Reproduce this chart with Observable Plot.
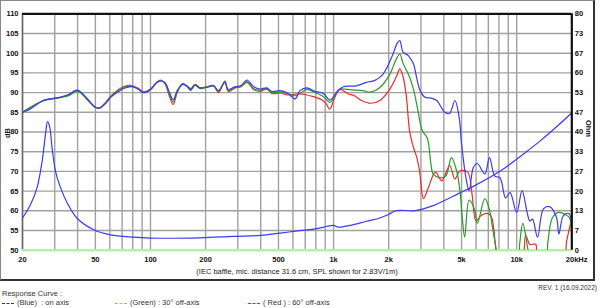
<!DOCTYPE html>
<html><head><meta charset="utf-8">
<script src="https://cdn.jsdelivr.net/npm/d3@7"></script>
<script src="https://cdn.jsdelivr.net/npm/@observablehq/plot@0.6"></script>
<style>
html,body{margin:0;padding:0;background:#fff;}
body{width:600px;height:308px;position:relative;overflow:hidden;font-family:"Liberation Sans",Arial,sans-serif;}
#frame{position:absolute;left:0;top:0;width:592px;height:278px;border-left:1px solid #888;border-top:1px solid #888;border-right:2px solid #333;border-bottom:2px solid #333;}
#chart{position:absolute;left:0;top:0;}
#caption{position:absolute;left:0;top:266px;width:592px;text-align:center;font-size:7.5px;color:#222;line-height:9px;}
#rev{position:absolute;right:3px;top:284px;font-size:6.5px;color:#333;line-height:8px;}
#resp{position:absolute;left:2px;top:289px;font-size:7.5px;color:#333;line-height:9px;}
.leg{position:absolute;top:298px;font-size:7.5px;color:#333;line-height:9px;white-space:pre;}
.dash{display:inline-block;width:12px;height:0;border-top:1px dashed;vertical-align:middle;margin-right:3px;}
</style></head>
<body>
<div id="frame"><div id="chart"></div>
<div id="caption">(IEC baffle, mic. distance 31.6 cm, SPL shown for 2.83V/1m)</div></div>
<div id="rev">REV. 1 (16.09.2022)</div>
<div id="resp">Response Curve :</div>
<div class="leg" style="left:2px"><span class="dash" style="border-color:#2a2a9a"></span>(Blue)  : on axis</div>
<div class="leg" style="left:115px"><span class="dash" style="border-color:#99cc33"></span>(Green) : 30° off-axis</div>
<div class="leg" style="left:248px"><span class="dash" style="border-color:#ee2222"></span>( Red ) : 60° off-axis</div>
<script>
// ---- Data ----
const blueFreq = [20,22,26,32,36,39,41,45,50,53,57,61,67,72,79,85,92,100,108,113,120,127,133,140,150,160,166,175,187,203,221,235,255,266,290,312,336,366,396,431,460,511,560,617,655,715,792,878,955,1040,1130,1330,1510,1680,1850,1960,2100,2230,2300,2400,2560,2730,2850,2970,3160,3400,3660,4050,4300,4600,4850,5000,5300,5500,5800,6100,6700,7100,7600,8100,8700,9200,10000,10700,11400,11800,12200,13000,14000,15200,16500,17000,18000,19300,20000];
const blueSpl = [85.0,85.8,88.0,88.8,89.6,90.6,90.4,88.5,86.3,86.1,87.3,88.9,90.3,91.1,91.5,91.0,90.0,90.8,92.5,93.0,92.6,90.0,88.2,90.5,92.1,91.5,90.8,91.9,91.2,91.3,91.8,90.5,92.6,90.8,91.5,91.8,93.2,91.5,90.9,91.2,90.3,90.5,89.9,88.4,90.5,91.2,90.3,89.8,88.1,90.1,91.5,91.7,92.6,93.1,94.5,96.4,99.5,102.6,103.2,100.2,99.4,97.3,93.5,90.5,88.8,88.6,88.0,85.0,84.7,88.0,83.7,77.0,68.0,65.1,71.0,72.0,69.3,73.5,68.8,68.4,63.3,64.6,59.6,65.1,59.6,57.4,57.9,53.3,60.5,61.0,58.3,54.1,58.8,59.3,55.9];

const greenFreq = [20,26,32,36,39,41,45,50,53,57,61,67,72,79,85,92,100,108,113,120,127,133,140,150,160,166,175,187,203,221,235,255,266,290,312,336,366,396,431,460,511,560,617,655,715,792,878,955,1040,1080,1250,1450,1580,1790,2030,2200,2300,2400,2560,2730,2890,3040,3250,3400,3500,3800,4100,4400,4700,4900,5050,5200,5500,5900,6100,6700,7100,7400,7700,8000,10000,10400,10800,11500,12000,14300,14800,15700,17000,18500,19400,20000];
const greenSpl = [85.0,87.9,88.7,89.3,90.2,90.1,88.3,86.2,86.1,87.4,89.0,90.6,91.4,91.6,91.0,90.0,90.8,92.5,93.0,92.4,89.5,87.6,90.3,92.2,91.3,90.5,91.9,91.0,91.4,91.6,90.3,92.8,90.5,91.3,91.6,92.8,91.0,90.6,91.0,90.0,90.2,89.7,89.2,89.8,90.8,90.0,89.0,87.5,90.0,90.9,90.7,90.5,90.1,91.3,94.7,98.5,99.8,97.3,94.7,90.9,85.4,80.5,78.4,72.0,69.3,68.4,68.8,73.5,70.1,65.1,58.0,53.3,62.7,60.2,56.8,63.1,60.3,55.4,50.7,46,46,52,56.8,50.4,46,46,52,58.3,59.6,59.0,58.3,50];

const redFreq = [20,26,32,36,39,41,45,50,53,57,61,67,72,79,85,92,100,108,113,120,127,133,140,150,160,166,175,187,203,221,235,255,266,290,312,336,366,396,431,460,511,560,617,655,715,745,843,900,955,1000,1080,1200,1300,1420,1600,1790,2030,2200,2300,2400,2500,2600,2730,2850,2950,3100,3300,3600,3900,4300,4600,4900,5400,5700,6000,6400,7000,7300,7700,7900,10500,11200,11800,12700,13100,18000,18700,20000];
const redSpl = [85.0,88.0,88.8,89.5,90.5,90.3,88.4,86.3,86.2,87.6,89.2,90.8,91.6,91.8,91.2,90.2,90.9,92.6,93.2,92.2,89.0,87.0,90.0,92.3,91.5,91.0,92.1,91.2,91.5,91.8,90.0,92.9,90.3,91.2,91.5,92.6,90.8,90.3,90.9,89.8,89.9,89.4,89.6,89.7,89.4,89.2,88.4,87.5,85.8,88.0,90.8,89.7,89.2,88.0,87.3,88.0,90.9,94.0,96.0,93.9,88.8,80.3,76.1,73.5,70.0,63.1,66.0,69.8,67.6,71.5,68.1,70.1,69.8,64.3,57.4,58.8,59.3,58.3,50,46,46,53.8,51.5,51.5,46,46,52,58];

const impFreq = [20,22.1,24,25.6,26.7,27.4,28.2,29,30.3,32.3,35.1,39.6,49,60.4,80.7,100,187,284,399,511,655,810,921,1000,1060,1230,1510,1790,1980,2200,2800,3500,4900,5800,8100,10800,13400,17100,20000];
const impOhm = [10.9,15.4,21.1,30.1,39.2,43.5,41.5,34.7,26.7,21.1,16.0,10.9,6.9,5.2,4.4,4.1,4.2,4.7,5.0,5.8,6.6,7.3,8.1,8.4,7.8,8.4,9.8,10.9,12.0,13.4,13.4,15.1,19.4,21.6,26.7,32.4,36.9,42.6,46.5];

const dbTicks = [50,55,60,65,70,75,80,85,90,95,100,105,110];
const ohmLabels = ["0","7","13","20","27","33","40","47","53","60","67","73","80"];
const gridFreqs = [20,30,40,50,60,70,80,90,100,200,300,400,500,600,700,800,900,1000,2000,3000,4000,5000,6000,7000,8000,9000,10000,20000];
const xTicks = [20,50,100,200,500,1000,2000,5000,10000];
const xLabels = ["20","50","100","200","500","1k","2k","5k","10k"];
const lastLabel = "20kHz";

// ---- Tables ----
const toRows = (f, v) => f.map((x, i) => ({f: x, v: v[i]}));
const blue = toRows(blueFreq, blueSpl);
const green = toRows(greenFreq, greenSpl);
const red = toRows(redFreq, redSpl);
const imp = toRows(impFreq, impOhm).map(d => ({f: d.f, v: 50 + d.v * 60 / 80}));

const chart = Plot.plot({
  width: 592, height: 262,
  marginLeft: 21, marginTop: 12.3, marginRight: 21.7, marginBottom: 13.3,
  x: {type: "log", domain: [20, 20000], axis: null},
  y: {domain: [50, 110], axis: null},
  style: {fontFamily: "Liberation Sans, Arial, sans-serif", fontSize: "7.5px", fontWeight: "bold", color: "#111", background: "white", overflow: "visible"},
  marks: [
    Plot.ruleX(gridFreqs, {stroke: "#a0a0a0", strokeWidth: 1.4}),
    Plot.ruleY(dbTicks, {stroke: "#a0a0a0", strokeWidth: 1.4}),
    Plot.ruleX([20], {stroke: "#666", strokeWidth: 1.5}),
    Plot.ruleY([50], {stroke: "#b6f0a6", strokeWidth: 2.5}),
    Plot.line(imp, {x: "f", y: "v", stroke: "#3b3bf0", strokeWidth: 1.2, curve: "catmull-rom", clip: true}),
    Plot.line(red, {x: "f", y: "v", stroke: "#ee2a2a", strokeWidth: 1.2, curve: "catmull-rom", clip: true}),
    Plot.line(green, {x: "f", y: "v", stroke: "#2a9a2a", strokeWidth: 1.2, curve: "catmull-rom", clip: true}),
    Plot.line(blue, {x: "f", y: "v", stroke: "#3b3bf0", strokeWidth: 1.2, curve: "catmull-rom", clip: true}),
    Plot.ruleY([110], {stroke: "#111", strokeWidth: 2.2}),
    Plot.ruleX([20000], {stroke: "#111", strokeWidth: 2.2}),
    Plot.axisY({ticks: dbTicks, anchor: "left", tickSize: 0, tickPadding: 4, label: null, tickFormat: d => String(d)}),
    Plot.axisY({ticks: dbTicks, anchor: "right", tickSize: 0, tickPadding: 3, label: null, tickFormat: (d) => ohmLabels[dbTicks.indexOf(d)]}),
    Plot.text(xTicks, {x: d => d, y: 50, text: (d, i) => xLabels[i], lineAnchor: "top", dy: 6}),
    Plot.text([lastLabel], {x: 20000, y: 50, text: d => d, textAnchor: "start", lineAnchor: "top", dx: -6, dy: 6}),
    Plot.text(["dB"], {frameAnchor: "left", rotate: -90, dx: -15, dy: 6}),
    Plot.text(["Ohm"], {frameAnchor: "right", rotate: 90, dx: 17, dy: 5})
  ]
});
document.getElementById("chart").appendChild(chart);
</script>
</body></html>
